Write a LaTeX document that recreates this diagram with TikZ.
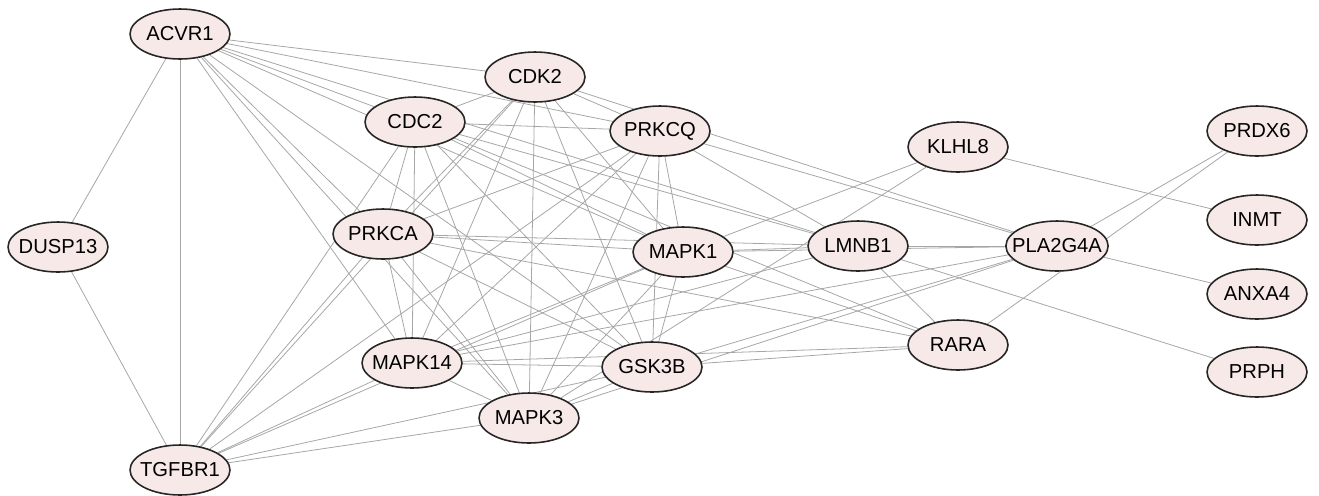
\documentclass[tikz,border=0pt]{standalone}
\usepackage{fontspec}
\setmainfont{Liberation Sans}
\usetikzlibrary{shapes.geometric,backgrounds}
\definecolor{genefill}{RGB}{247,233,231}
\tikzset{
    gene/.style={
           ellipse,
           draw=black!85,
           line width=0.9pt,
           fill=genefill,
           minimum width=2cm,
           minimum height=1cm,
           inner xsep=-5pt,
           inner ysep=0pt,
           font=\fontsize{11.5}{13}\selectfont,
           },
    link/.style={
           draw=gray!70,
           line width=0.45pt,
           },
}

\begin{document}
\begin{tikzpicture}[x=0.02cm,y=-0.02cm]
 \useasboundingbox (0,0) rectangle (1319,495);

 % left column
 \node[gene] (ACVR1) at (180,34) {ACVR1};
 \node[gene] (DUSP13) at (58,247) {DUSP13};
 \node[gene] (TGFBR1) at (180,470) {TGFBR1};

 % dense core
 \node[gene] (CDK2) at (535,77) {CDK2};
 \node[gene] (CDC2) at (415,122) {CDC2};
 \node[gene] (PRKCQ) at (660,131) {PRKCQ};
 \node[gene] (PRKCA) at (383,234) {PRKCA};
 \node[gene] (MAPK1) at (683,252) {MAPK1};
 \node[gene] (MAPK14) at (412,363) {MAPK14};
 \node[gene] (GSK3B) at (652,367) {GSK3B};
 \node[gene] (MAPK3) at (529,418) {MAPK3};

 % middle
 \node[gene] (KLHL8) at (958,147) {KLHL8};
 \node[gene] (LMNB1) at (858,246) {LMNB1};
 \node[gene] (PLA2G4A) at (1057,246) {PLA2G4A};
 \node[gene] (RARA) at (958,345) {RARA};

 % right column
 \node[gene] (PRDX6) at (1257,131) {PRDX6};
 \node[gene] (INMT) at (1257,220) {INMT};
 \node[gene] (ANXA4) at (1257,294) {ANXA4};
 \node[gene] (PRPH) at (1257,372) {PRPH};

 \begin{pgfonlayer}{background}
 \path[link]
   (ACVR1) edge (DUSP13) edge (TGFBR1) edge (CDK2) edge (PRKCQ)
           edge (CDC2) edge (LMNB1) edge (MAPK1) edge (PRKCA)
           edge (GSK3B) edge (MAPK3) edge (MAPK14)
   (TGFBR1) edge (DUSP13) edge (CDC2) edge (CDK2) edge (PRKCA)
            edge (PRKCQ) edge (MAPK14) edge (MAPK1) edge (GSK3B)
            edge (MAPK3)
   (CDK2) edge (CDC2) edge (PRKCQ) edge (PRKCA) edge (MAPK14)
          edge (MAPK3) edge (GSK3B) edge (MAPK1) edge (PLA2G4A)
   (CDC2) edge (PRKCQ) edge (PRKCA) edge (MAPK14) edge (MAPK3)
          edge (GSK3B) edge (MAPK1) edge (LMNB1) edge (RARA)
   (PRKCQ) edge (PRKCA) edge (MAPK14) edge (MAPK3) edge (GSK3B)
           edge (MAPK1) edge (LMNB1) edge (PLA2G4A)
   (PRKCA) edge (MAPK1) edge (LMNB1) edge (MAPK14) edge (MAPK3)
           edge (GSK3B) edge (RARA)
   (MAPK1) edge (KLHL8) edge (LMNB1) edge (PLA2G4A) edge (RARA)
           edge (GSK3B) edge (MAPK14) edge (MAPK3)
   (LMNB1) edge (PRPH) edge (RARA) edge (PLA2G4A) edge (MAPK14)
   (PLA2G4A) edge (PRDX6) edge (ANXA4) edge (GSK3B) edge (MAPK14)
             edge (MAPK3)
   (RARA) edge (PRDX6) edge (GSK3B) edge (MAPK14)
   (KLHL8) edge (INMT) edge (MAPK3)
   (GSK3B) edge (MAPK14) edge (MAPK3)
   (MAPK14) edge (MAPK3)
 ;
 \end{pgfonlayer}
\end{tikzpicture}
\end{document}
